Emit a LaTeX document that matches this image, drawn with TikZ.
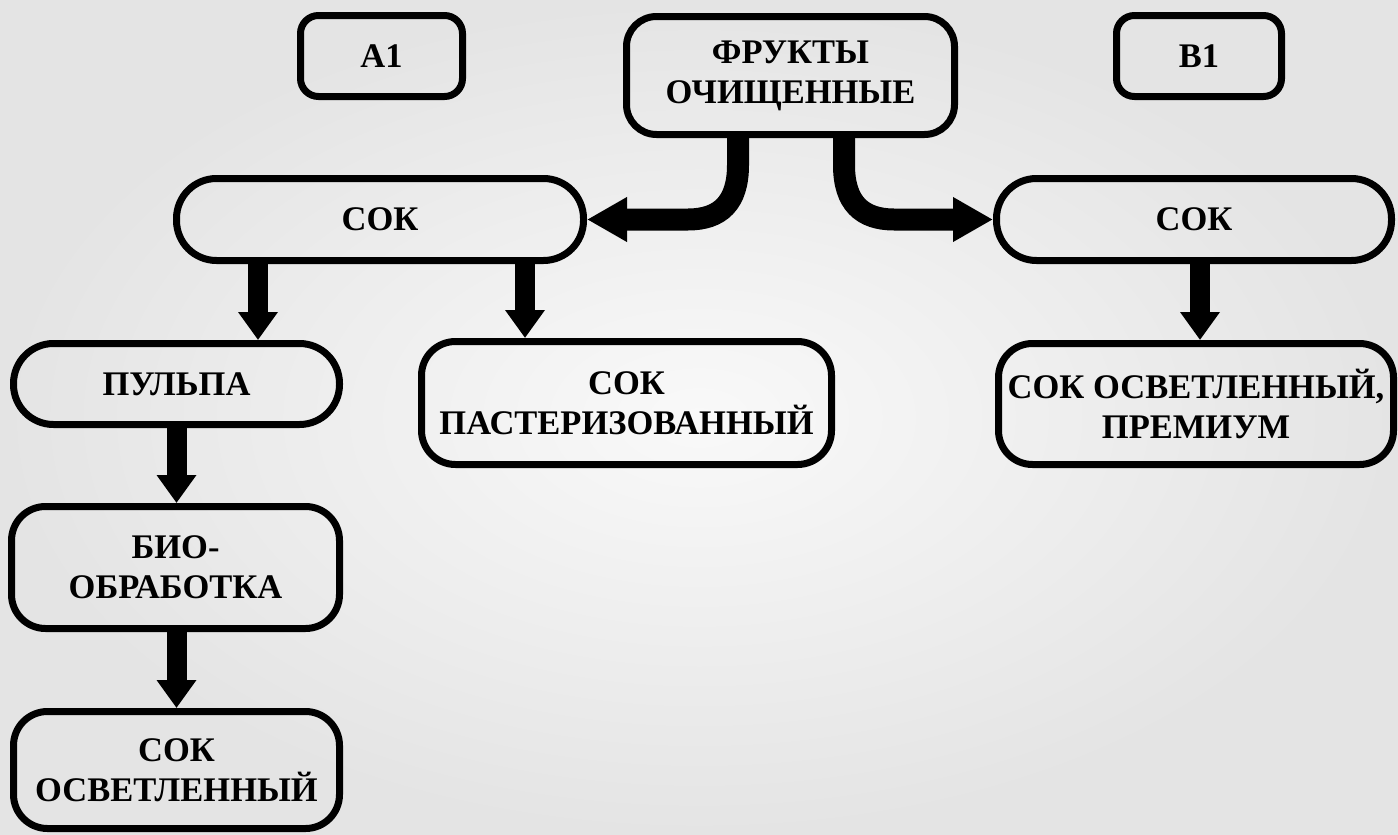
\documentclass[tikz,border=0pt]{standalone}
\usepackage{fontspec}
\setmainfont{Liberation Serif}
\usetikzlibrary{arrows.meta}
\definecolor{bgin}{RGB}{249,249,249}
\definecolor{bgout}{RGB}{228,228,228}
\begin{document}
\begin{tikzpicture}[x=1pt,y=-1pt,
  basebox/.style={draw=black, line width=7pt, align=center, inner sep=0pt,
    font=\fontsize{34.5}{40}\selectfont\bfseries, text=black},
  smallbox/.style={basebox, rounded corners=18pt},
  pillbox/.style={basebox, rounded corners=40pt},
  tallbox/.style={basebox, rounded corners=34pt},
  flow/.style={line width=20pt, -{Triangle[length=28pt,width=38pt]}},
  curvflow/.style={line width=22pt, -{Triangle[length=40pt,width=42pt]}}]
\shade[inner color=bgin, outer color=bgout] (0,0) rectangle (1398,835);
\useasboundingbox (0,0) rectangle (1398,835);

\node[smallbox, minimum width=162pt, minimum height=81pt] (a1) at (381.5,56) {A1};
\node[tallbox, rounded corners=30pt, minimum width=328pt, minimum height=118pt] (fruit) at (790.5,75.5) {ФРУКТЫ\\ОЧИЩЕННЫЕ};
\node[smallbox, minimum width=165pt, minimum height=81pt] (b1) at (1199,56) {B1};

\node[pillbox, minimum width=407pt, minimum height=82pt] (sokL) at (380,219.5) {СОК};
\node[pillbox, minimum width=395pt, minimum height=82pt] (sokR) at (1194,219.5) {СОК};

\node[pillbox, minimum width=326pt, minimum height=81pt] (pulpa) at (176.5,384) {ПУЛЬПА};
\node[tallbox, minimum width=410pt, minimum height=123pt] (past) at (626.5,403) {СОК\\ПАСТЕРИЗОВАННЫЙ};
\node[tallbox, minimum width=395pt, minimum height=121pt] (prem) at (1196,404) {СОК ОСВЕТЛЕННЫЙ,\\ПРЕМИУМ};
\node[tallbox, minimum width=328pt, minimum height=122pt] (bio) at (175.5,567.5) {БИО-\\ОБРАБОТКА};
\node[tallbox, minimum width=326pt, minimum height=117pt] (osv) at (176.5,770) {СОК\\ОСВЕТЛЕННЫЙ};

\draw[flow] (sokL.south -| 258,0) -- (pulpa.north -| 258,0);
\draw[flow] (sokL.south -| 525,0) -- (past.north -| 525,0);
\draw[flow] (sokR.south -| 1200,0) -- (prem.north -| 1200,0);
\draw[flow] (pulpa.south) -- (bio.north -| pulpa.south);
\draw[flow] (bio.south -| pulpa.south) -- (osv.north -| pulpa.south);

\draw[curvflow] (fruit.south -| 738,0) -- (738,165) .. controls (738,203) and (720,219.5) .. (688,219.5) -- (sokL.east);
\draw[curvflow] (fruit.south -| 844,0) -- (844,165) .. controls (844,203) and (862,219.5) .. (894,219.5) -- (sokR.west);
\end{tikzpicture}
\end{document}
